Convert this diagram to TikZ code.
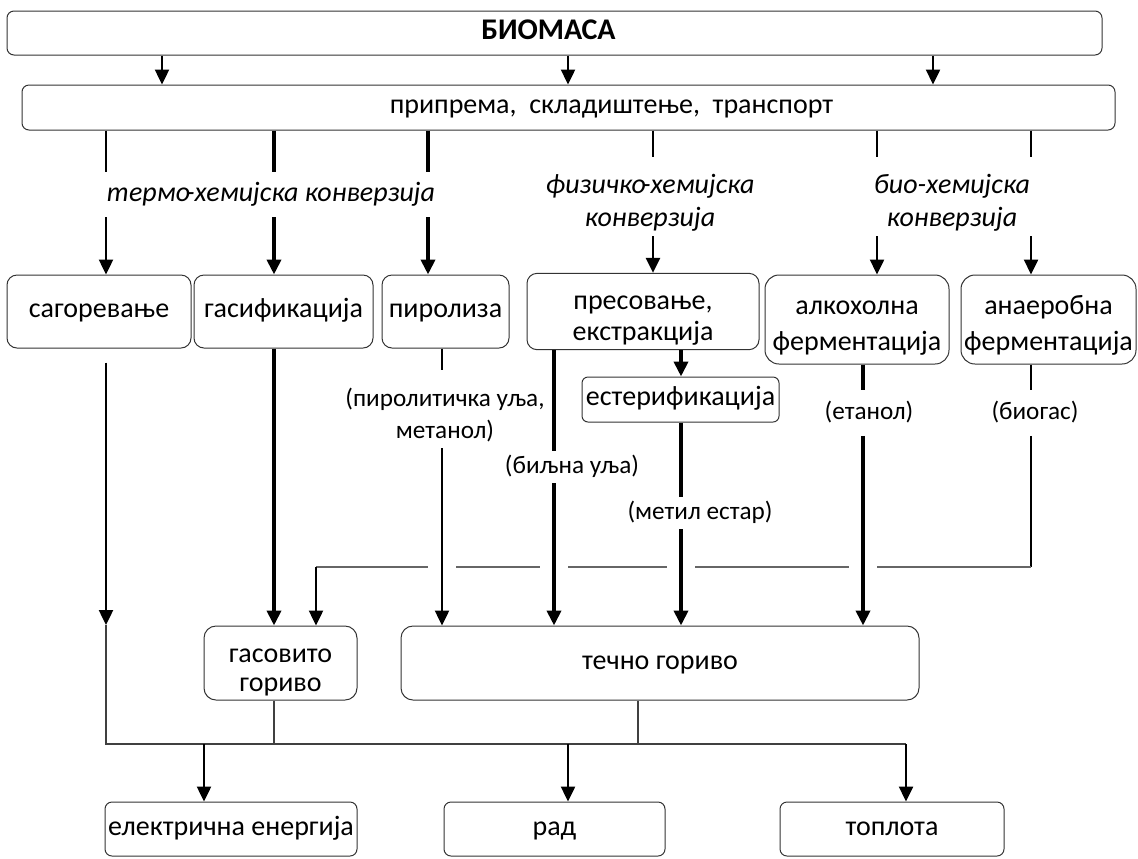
\documentclass[tikz,border=0pt]{standalone}
\usepackage{fontspec}
\setmainfont{Carlito}
\usetikzlibrary{arrows.meta,calc}
\newcommand\fsz[2]{\fontsize{#1}{#2}\selectfont}
\newcommand\twoln[2]{\begin{tabular}{@{}c@{}}\rule{0pt}{18pt}#1\\#2\end{tabular}}

\tikzset{
  box/.style={draw=black!80, line width=0.5pt, rounded corners=5pt, inner sep=0pt,
              font=\fsz{14}{16}, execute at begin node=\strut},
  lbl/.style={inner sep=0pt, font=\fsz{12.6}{16}, execute at begin node=\strut},
  itl/.style={lbl, font=\fsz{14}{16.5}\itshape},
  arr/.style={-{Triangle[length=7.5pt,width=7pt]}},
  hair/.style={line width=0.55pt},
  mid/.style={line width=1.2pt},
  thick/.style={line width=2pt},
  feed/.style={line width=0.55pt, black!60},
}

\begin{document}
\begin{tikzpicture}[x=0.5pt, y=-0.5pt]
	\useasboundingbox (0,0) rectangle (1138,858);
	%%%%% columns %%%%%
	\foreach \n/\x in {ka/162, kb/568, kc/933, k1/106, k2/274, k3/428, k4/653, k5/877, k6/1031,
	                   p3/442, p4/554, p5/681, p6/863, gs/316, e1/204, e2/568, e3/906, gb/274, lb/638}
		\coordinate (\n) at (\x,0);
	\coordinate (sagend) at (106,625);
	\coordinate (busl) at (106,744);
	\coordinate (busr) at (906,744);
	\coordinate (bend) at (1031,567);
	\coordinate (gsbend) at (316,567);
	
	%%%%% boxes %%%%%
	\node[box, rounded corners=3.5pt, font=\fsz{15}{17}\bfseries, minimum width=547.5pt, minimum height=22pt] (bio) at (554.5,33) {БИОМАСА\hspace*{6pt}};
	\node[box, rounded corners=3.5pt, minimum width=546.5pt, minimum height=22.5pt] (prep) at (568.5,107.5) {\hspace*{43pt}припрема,\ \ складиштење,\ \ транспорт};
	
	\node[box, minimum width=92pt, minimum height=36.5pt] (sag) at (99,311.5) {сагоревање};
	\node[box, minimum width=89.5pt, minimum height=36.5pt] (gas) at (283.5,311.5) {гасификација};
	\node[box, minimum width=63.5pt, minimum height=36.5pt] (pir) at (445.5,311.5) {пиролиза};
	\node[box, font=\fsz{14}{15.5}, minimum width=116pt, minimum height=36.5pt] (pres) at (643,311.5) {\twoln{пресовање,}{екстракција}};
	\node[box, font=\fsz{14}{18}, rounded corners=7pt, minimum width=92pt, minimum height=44.5pt] (alk) at (857,319.5) {\twoln{алкохолна}{ферментација}};
	\node[box, font=\fsz{14}{18}, rounded corners=7pt, minimum width=87.5pt, minimum height=44.5pt] (ana) at (1048.5,319.5) {\twoln{анаеробна}{ферментација}};
	\node[box, rounded corners=3pt, minimum width=98.5pt, minimum height=22.5pt] (est) at (680.5,399.5) {естерификација};
	
	\node[box, font=\fsz{14}{14.5}, rounded corners=6pt, minimum width=76.5pt, minimum height=37pt] (gasf) at (280.5,663) {\twoln{гасовито}{гориво}};
	\node[box, rounded corners=6pt, minimum width=259pt, minimum height=37pt] (liq) at (660,663) {течно гориво};
	
	\node[box, rounded corners=3.5pt, minimum width=126pt, minimum height=27pt] (elec) at (231,829) {електрична енергија};
	\node[box, rounded corners=3.5pt, minimum width=110.5pt, minimum height=27pt] (rad) at (554.5,829) {рад};
	\node[box, rounded corners=3.5pt, minimum width=112pt, minimum height=27pt] (topl) at (892,829) {топлота};
	
	%%%%% labels %%%%%
	\node[itl, minimum height=22.5pt] (termo) at (271,194.5) {термо\kern-2pt-хемијска конверзија};
	\node[itl, minimum height=37.5pt] (fiz) at (650,196.5) {\twoln{физичко\kern-2pt-хемијска}{конверзија}};
	\node[itl, minimum height=37.5pt] (biohem) at (952,196.5) {\twoln{био-хемијска}{конверзија}};
	\node[lbl, minimum height=30pt] (pirol) at (445,409) {\twoln{(пиролитичка уља,}{метанол)}};
	\node[lbl, minimum height=16pt] (biljna) at (572,467) {(биљна уља)};
	\node[lbl, minimum height=16pt] (metil) at (700,513) {(метил естар)};
	\node[lbl, minimum height=22.5pt] (etanol) at (869,413) {(етанол)};
	\node[lbl, minimum height=22.5pt] (biogas) at (1035,413) {(биогас)};
	
	%%%%% top %%%%%
	\foreach \c in {ka,kb,kc}
		\draw[mid,arr] (bio.south -| \c) -- (prep.north -| \c);
	
	\foreach \c/\w/\t in {k1/mid/sag, k2/thick/gas, k3/thick/pir} {
		\draw[\w] (prep.south -| \c) -- (termo.north -| \c);
		\draw[\w,arr] (termo.south -| \c) -- (\t.north -| \c);
	}
	\draw[mid] (prep.south -| k4) -- (fiz.north -| k4);
	\draw[mid,arr] (fiz.south -| k4) -- (pres.north -| k4);
	\draw[mid] (prep.south -| k5) -- (biohem.north -| k5);
	\draw[mid,arr] (biohem.south -| k5) -- (alk.north -| k5);
	\draw[mid] (prep.south -| k6) -- (biohem.north -| k6);
	\draw[mid,arr] (biohem.south -| k6) -- (ana.north -| k6);
	
	%%%%% gas feed %%%%%
	\draw[hair] (ana.south -| k6) -- (biogas.north -| k6);
	\draw[hair] (biogas.south -| k6) -- (bend);
	\draw[feed] (bend) -- (gsbend);
	\foreach \c in {p3,p4,p5,p6}
		\draw[white, line width=2pt] ($(\c |- bend)+(-14,0)$) -- ($(\c |- bend)+(14,0)$);
	\draw[mid,arr] (gsbend) -- (gasf.north -| gs);
	
	%%%%% fuels %%%%%
	\draw[mid,arr] ($(sag.south -| k1)+(0,14)$) -- (sagend);
	\draw[thick,arr] (gas.south -| k2) -- (gasf.north -| k2);
	\draw[mid] (pir.south -| p3) -- (pirol.north -| p3);
	\draw[mid,arr] (pirol.south -| p3) -- (liq.north -| p3);
	\draw[thick] (pres.south -| p4) -- (biljna.north -| p4);
	\draw[thick,arr] (biljna.south -| p4) -- (liq.north -| p4);
	\draw[thick,arr] (pres.south -| p5) -- (est.north -| p5);
	\draw[thick] (est.south -| p5) -- (metil.north -| p5);
	\draw[thick,arr] (metil.south -| p5) -- (liq.north -| p5);
	\draw[thick] (alk.south -| p6) -- (etanol.north -| p6);
	\draw[thick,arr] (etanol.south -| p6) -- (liq.north -| p6);
	
	%%%%% uses %%%%%
	\draw[hair, black!75] (sagend) -- (busl) -- (busr);
	\draw[hair, black!75] (gasf.south -| gb) -- (gb |- busl);
	\draw[hair, black!75] (liq.south -| lb) -- (lb |- busl);
	\foreach \c/\b in {e1/elec, e2/rad, e3/topl}
		\draw[mid,arr] (\c |- busl) -- (\b.north -| \c);
\end{tikzpicture}
\end{document}
